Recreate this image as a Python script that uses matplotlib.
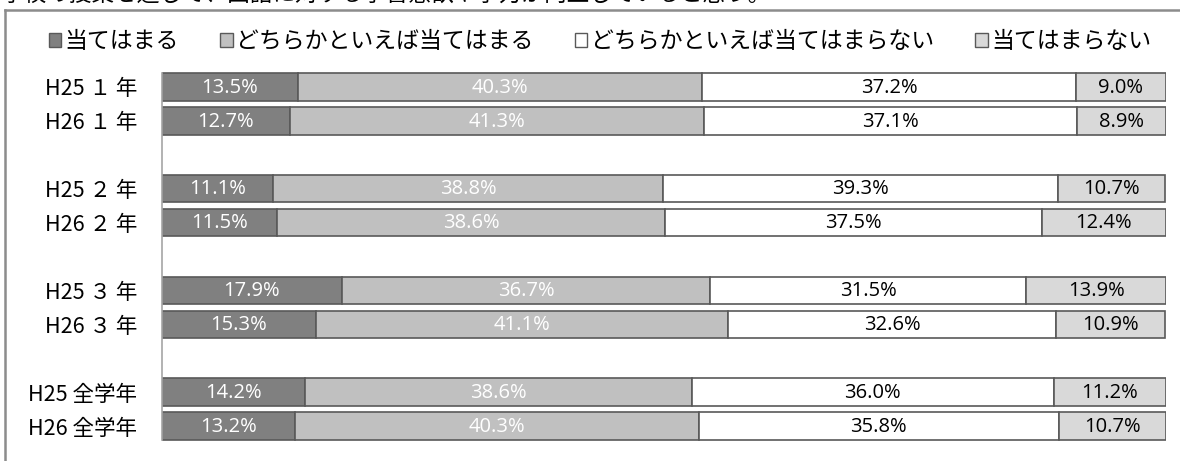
import matplotlib
matplotlib.use("Agg")
import matplotlib.pyplot as plt
from matplotlib.lines import Line2D
import numpy as np

plt.rcParams['font.family'] = ['Noto Sans CJK JP', 'DejaVu Sans']

title = "学校の授業を通して、国語に対する学習意欲や学力が向上していると思う。"
categories = ["H25 １ 年", "H26 １ 年", "", "H25 ２ 年", "H26 ２ 年", "",
              "H25 ３ 年", "H26 ３ 年", "", "H25 全学年", "H26 全学年"]
series_names = ["当てはまる", "どちらかといえば当てはまる",
                "どちらかといえば当てはまらない", "当てはまらない"]
atehamaru = [13.5, 12.7, None, 11.1, 11.5, None, 17.9, 15.3, None, 14.2, 13.2]
dochira_ate = [40.3, 41.3, None, 38.8, 38.6, None, 36.7, 41.1, None, 38.6, 40.3]
dochira_nai = [37.2, 37.1, None, 39.3, 37.5, None, 31.5, 32.6, None, 36.0, 35.8]
atehamaranai = [9.0, 8.9, None, 10.7, 12.4, None, 13.9, 10.9, None, 11.2, 10.7]

series = [atehamaru, dochira_ate, dochira_nai, atehamaranai]
colors = ["#808080", "#C0C0C0", "#FFFFFF", "#D9D9D9"]
text_colors = ["white", "white", "black", "black"]
edge = "#595959"

W, H = 1180, 461
fig = plt.figure(figsize=(W / 100, H / 100), dpi=100)
ax = fig.add_axes([162 / W, 1 - 443 / H, (1166 - 162) / W, (443 - 70) / H])

y = np.arange(len(categories))
left = np.zeros(len(categories))
for vals, c, tc, name in zip(series, colors, text_colors, series_names):
    v = np.array([np.nan if x is None else x for x in vals], dtype=float)
    mask = ~np.isnan(v)
    ax.barh(y[mask], v[mask], left=left[mask], height=0.81, color=c,
            edgecolor=edge, linewidth=1.2, label=name)
    for yi, vi, li in zip(y[mask], v[mask], left[mask]):
        ax.text(li + vi / 2, yi + 0.02, f"{vi:.1f}%", ha='center', va='center',
                color=tc, fontsize=14.5, family=['Open Sans', 'DejaVu Sans'])
    left[mask] += v[mask]

ax.set_xlim(0, 100)
ax.set_ylim(len(categories) - 0.5, -0.5)
ax.set_yticks(y)
ax.set_yticklabels(categories, fontsize=15.5)
ax.tick_params(axis='y', length=0, pad=18)
ax.set_xticks([])
for s in ['top', 'right', 'bottom']:
    ax.spines[s].set_visible(False)
ax.spines['left'].set_color('#A6A6A6')
ax.spines['left'].set_linewidth(1.2)
ax.spines['left'].set_bounds(-0.4, 10.4)

handles = [plt.Rectangle((0, 0), 1, 1, facecolor=c, edgecolor=edge, linewidth=1.0)
           for c in colors]
fig.legend(handles, series_names, loc='center', bbox_to_anchor=(600 / W, 1 - 42 / H),
           ncol=4, frameon=False, fontsize=16.5, handlelength=0.55, handleheight=0.55,
           handletextpad=0.15, columnspacing=1.8)

# frame
fig.add_artist(Line2D([5 / W, 1.0], [1 - 10 / H, 1 - 10 / H], transform=fig.transFigure,
                      color='#8C8C8C', linewidth=1.8))
fig.add_artist(Line2D([5 / W, 5 / W], [0, 1 - 10 / H], transform=fig.transFigure,
                      color='#8C8C8C', linewidth=1.8))

fig.text(2 / W, 1 + 6 / H, title, ha='left', va='center', fontsize=16.3)

fig.savefig("out.png", dpi=100)
